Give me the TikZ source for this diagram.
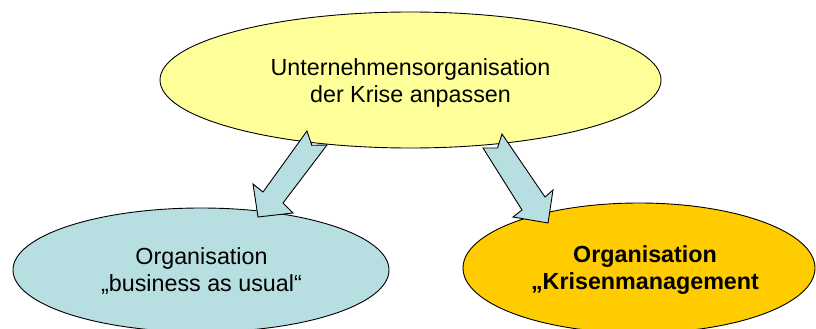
\documentclass[tikz,border=0pt]{standalone}
\usepackage{fontspec}
\setmainfont{Liberation Sans}
\usetikzlibrary{shapes.geometric}
\definecolor{ovalyellow}{HTML}{FFFF99}
\definecolor{ovalblue}{HTML}{B7DEE1}
\definecolor{ovalgold}{HTML}{FFCC00}
\begin{document}
\begin{tikzpicture}[x=1pt,y=-1pt,
  oval/.style={ellipse, draw=black, line width=0.9pt, inner sep=0pt, outer sep=0pt},
  ovaltext/.style={align=center, font=\fontsize{23.3}{27}\selectfont, inner sep=0pt},
  blockarrow/.style={draw=black, line width=0.9pt, fill=ovalblue, line join=miter}]
\useasboundingbox (0,0) rectangle (816,329);
% ovals
\node[oval, fill=ovalyellow, minimum width=501pt, minimum height=136pt] (top) at (410.5,80) {};
\node[oval, fill=ovalblue, minimum width=376pt, minimum height=124pt] (left) at (201,270) {};
\node[oval, fill=ovalgold, minimum width=352pt, minimum height=130pt] (right) at (639,268) {};
% texts
\node[ovaltext] (toptext) at (410.5,82.5) {Unternehmensorganisation\\der Krise anpassen};
\node[ovaltext] (lefttext) at (201.5,271.5) {Organisation\\„business as usual“};
\node[ovaltext, font=\fontsize{23.3}{27}\selectfont\bfseries] (righttext) at (645,270.3) {Organisation\\„Krisenmanagement};
% notched block arrows
\draw[blockarrow] (307,131) -- (311.8,145.3) -- (327,145) -- (283,203) -- (293,213)
  -- (258,217) -- (253,184) -- (263,192) -- cycle;
\draw[blockarrow] (502,134) -- (497.5,148) -- (483,148) -- (522,210) -- (513,217)
  -- (548,223) -- (553,190) -- (545,197) -- cycle;
\end{tikzpicture}
\end{document}
